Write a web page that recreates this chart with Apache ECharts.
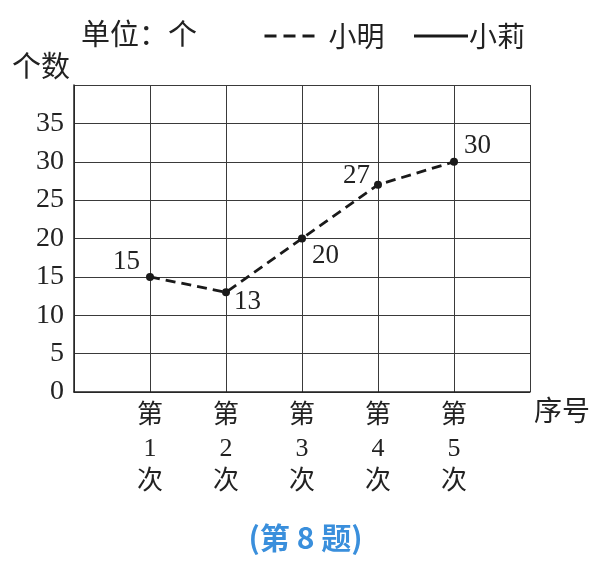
<!DOCTYPE html>
<html><head><meta charset="utf-8">
<script src="https://cdn.jsdelivr.net/npm/echarts@6/dist/echarts.min.js"></script>
<style>html,body{margin:0;padding:0;background:#fff}#c{width:611px;height:561px}</style>
</head><body><div id="c"></div>
<script>
const categories = ['第1次', '第2次', '第3次', '第4次', '第5次'];
const xiaomingValues = [15, 13, 20, 27, 30];
const xiaoliValues = [];
const yTicks = [0, 5, 10, 15, 20, 25, 30, 35];

const labelLayout = [
  {position: 'left', offset: [0, -15]},
  {position: 'right', offset: [-2, 10]},
  {position: 'right', offset: [0, 17]},
  {position: 'left', offset: [2, -9]},
  {position: 'right', offset: [0, -16]}
];

const serif = '"Liberation Serif", "Noto Sans CJK SC", serif';
const cjk = '"Noto Sans CJK SC", sans-serif';

const chart = echarts.init(document.getElementById('c'));
chart.setOption({
  animation: false,
  backgroundColor: '#fff',
  title: {
    text: '(第 8 题)',
    left: 'center', top: 518,
    textStyle: {color: '#3a8fdc', fontSize: 30, fontWeight: 'bold', fontFamily: cjk}
  },
  graphic: [
    {type: 'text', left: 81, top: 19, style: {text: '单位：个', font: '29px ' + cjk, fill: '#222'}},
    {type: 'text', left: 12, top: 51, style: {text: '个数', font: '29px ' + cjk, fill: '#222'}}
  ],
  legend: {
    left: 258, top: 17,
    itemWidth: 54, itemHeight: 14, itemGap: 28,
    textStyle: {fontSize: 28, fontFamily: cjk, color: '#222'},
    data: [
      {name: '小明', itemStyle: {opacity: 0}, lineStyle: {type: [12, 7], width: 3}, textStyle: {padding: [0, 0, 0, 5]}},
      {name: '小莉', itemStyle: {opacity: 0}, lineStyle: {width: 3}, textStyle: {padding: [0, 0, 0, -4]}}
    ]
  },
  grid: {left: 74, right: 81, top: 85, bottom: 169},
  xAxis: {
    type: 'value', min: 0, max: 6, interval: 1,
    name: '序号', nameLocation: 'end', nameGap: 4,
    nameTextStyle: {fontSize: 28, fontFamily: cjk, color: '#222', verticalAlign: 'top', align: 'left', padding: [4, 0, 0, 0]},
    axisLine: {show: true, lineStyle: {color: '#222', width: 1.5}},
    axisTick: {show: false},
    splitLine: {show: true, lineStyle: {color: '#3a3a3a', width: 1}},
    axisLabel: {
      margin: 8, fontSize: 26, lineHeight: 33, fontFamily: serif, color: '#222',
      formatter: v => (v >= 1 && v <= categories.length) ? categories[v - 1].split('').join('\n') : ''
    }
  },
  yAxis: {
    type: 'value', min: 0, max: 40, interval: 5,
    axisLine: {show: true, lineStyle: {color: '#222', width: 1.5}},
    axisTick: {show: false},
    splitLine: {show: true, lineStyle: {color: '#3a3a3a', width: 1}},
    axisLabel: {
      margin: 10, fontSize: 28, fontFamily: serif, color: '#222',
      formatter: v => yTicks.includes(v) ? String(v) : ''
    }
  },
  series: [
    {
      name: '小明', type: 'line',
      data: xiaomingValues.map((v, i) => ({
        value: [i + 1, v],
        label: {show: true, position: labelLayout[i].position, offset: labelLayout[i].offset}
      })),
      symbol: 'circle', symbolSize: 8,
      itemStyle: {color: '#1a1a1a'},
      lineStyle: {color: '#1a1a1a', width: 2.8, type: [10, 6]},
      label: {fontSize: 27, fontFamily: serif, color: '#222', distance: 6, formatter: p => p.value[1]}
    },
    {
      name: '小莉', type: 'line',
      data: xiaoliValues,
      symbol: 'none',
      itemStyle: {color: '#1a1a1a'},
      lineStyle: {color: '#1a1a1a', width: 2.5, type: 'solid'}
    }
  ]
});
</script>
</body></html>
